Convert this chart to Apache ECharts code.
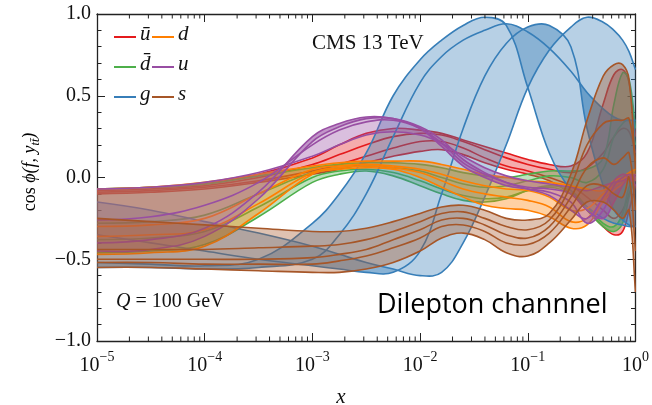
<!DOCTYPE html>
<html>
<head>
<meta charset="utf-8">
<script src="https://cdn.jsdelivr.net/npm/echarts@6/dist/echarts.min.js"></script>
<style>
html, body { margin: 0; padding: 0; background: #fff; }
#chart { width: 652px; height: 405px; }
</style>
</head>
<body>
<div id="chart"></div>
<script>
// Sampling grid: log10(x)
const xExp = [-5, -4.5, -4, -3.5, -3, -2.75, -2.5, -2.25, -2, -1.8, -1.6, -1.4, -1.2, -1, -0.8, -0.6, -0.45, -0.3, -0.2, -0.12, -0.06, 0];

// Correlation curves per flavour (one row per curve, aligned with xExp)
const ubarCurves = [
  [-0.07, -0.06, -0.04, 0.02, 0.12, 0.20, 0.27, 0.30, 0.29, 0.27, 0.23, 0.19, 0.15, 0.11, 0.08, 0.07, 0.15, 0.45, 0.63, 0.66, 0.58, 0.25],
  [-0.08, -0.07, -0.05, 0.00, 0.08, 0.14, 0.20, 0.25, 0.27, 0.26, 0.22, 0.17, 0.12, 0.08, 0.05, 0.03, 0.06, 0.15, 0.25, 0.30, 0.28, 0.15],
  [-0.09, -0.08, -0.06, -0.02, 0.04, 0.08, 0.13, 0.18, 0.22, 0.22, 0.18, 0.12, 0.07, 0.04, 0.00, -0.05, -0.12, -0.20, -0.25, -0.20, -0.10, 0.00],
  [-0.10, -0.09, -0.07, -0.03, 0.02, 0.05, 0.09, 0.13, 0.16, 0.17, 0.14, 0.09, 0.05, 0.02, -0.02, -0.10, -0.20, -0.30, -0.35, -0.33, -0.20, -0.05]
];
const dbarCurves = [
  [-0.07, -0.06, -0.04, 0.01, 0.06, 0.08, 0.09, 0.09, 0.08, 0.06, 0.03, 0.01, 0.00, 0.02, 0.04, 0.04, 0.05, 0.12, 0.45, 0.64, 0.60, 0.30],
  [-0.28, -0.27, -0.23, -0.10, 0.03, 0.06, 0.07, 0.06, 0.04, 0.00, -0.04, -0.06, -0.05, -0.02, 0.01, 0.00, -0.03, 0.05, 0.25, 0.33, 0.35, 0.20],
  [-0.38, -0.37, -0.33, -0.18, 0.00, 0.04, 0.05, 0.03, -0.02, -0.07, -0.11, -0.13, -0.12, -0.08, -0.06, -0.10, -0.20, -0.30, -0.33, -0.28, -0.12, 0.00],
  [-0.46, -0.45, -0.41, -0.24, -0.03, 0.02, 0.04, 0.01, -0.05, -0.10, -0.14, -0.15, -0.13, -0.08, -0.05, -0.08, -0.18, -0.28, -0.30, -0.22, -0.06, 0.00]
];
const gluonCurves = [
  [-0.52, -0.53, -0.54, -0.50, -0.28, -0.10, 0.15, 0.50, 0.72, 0.84, 0.93, 0.98, 0.93, 0.55, 0.15, -0.08, -0.18, -0.25, -0.28, -0.29, -0.30, -0.30],
  [-0.55, -0.55, -0.56, -0.55, -0.50, -0.35, -0.10, 0.25, 0.58, 0.74, 0.84, 0.90, 0.94, 0.89, 0.79, 0.65, 0.52, 0.42, 0.37, 0.35, 0.35, 0.35],
  [-0.35, -0.40, -0.45, -0.50, -0.54, -0.56, -0.58, -0.58, -0.45, -0.10, 0.30, 0.62, 0.82, 0.92, 0.93, 0.80, 0.30, -0.05, -0.20, -0.26, -0.29, -0.30],
  [-0.15, -0.20, -0.27, -0.34, -0.42, -0.47, -0.52, -0.56, -0.60, -0.58, -0.40, -0.12, 0.20, 0.55, 0.78, 0.92, 0.98, 0.95, 0.90, 0.84, 0.77, 0.66]
];
const dCurves = [
  [-0.07, -0.06, -0.03, 0.02, 0.07, 0.09, 0.10, 0.10, 0.10, 0.08, 0.05, 0.02, 0.00, -0.02, -0.03, -0.05, -0.07, -0.08, -0.02, 0.00, 0.02, 0.00],
  [-0.30, -0.29, -0.25, -0.10, 0.05, 0.07, 0.08, 0.07, 0.05, 0.02, -0.02, -0.05, -0.07, -0.08, -0.12, -0.20, -0.19, -0.10, -0.05, -0.02, 0.00, -0.02],
  [-0.36, -0.35, -0.32, -0.16, 0.03, 0.06, 0.07, 0.06, 0.03, -0.02, -0.07, -0.10, -0.12, -0.14, -0.18, -0.27, -0.25, -0.13, -0.05, 0.00, 0.03, 0.05],
  [-0.47, -0.46, -0.42, -0.22, 0.02, 0.05, 0.06, 0.05, 0.00, -0.06, -0.12, -0.17, -0.19, -0.20, -0.24, -0.31, -0.29, -0.15, -0.08, -0.04, 0.00, 0.02]
];
const uCurves = [
  [-0.07, -0.06, -0.03, 0.03, 0.13, 0.20, 0.26, 0.28, 0.26, 0.21, 0.13, 0.06, 0.01, -0.02, -0.04, -0.06, -0.08, -0.05, -0.03, -0.02, 0.00, -0.02],
  [-0.26, -0.24, -0.17, -0.03, 0.20, 0.29, 0.34, 0.35, 0.30, 0.21, 0.09, 0.02, -0.03, -0.06, -0.07, -0.10, -0.20, -0.25, -0.15, -0.05, 0.00, 0.02],
  [-0.40, -0.38, -0.31, -0.09, 0.25, 0.33, 0.37, 0.36, 0.30, 0.19, 0.07, 0.00, -0.05, -0.07, -0.09, -0.15, -0.28, -0.20, -0.05, 0.00, 0.02, 0.00],
  [-0.45, -0.44, -0.36, -0.13, 0.22, 0.31, 0.36, 0.36, 0.31, 0.23, 0.11, 0.03, -0.03, -0.07, -0.11, -0.20, -0.25, -0.12, -0.02, 0.02, 0.00, -0.05]
];
const sCurves = [
  [-0.25, -0.27, -0.29, -0.31, -0.33, -0.33, -0.31, -0.27, -0.22, -0.18, -0.17, -0.20, -0.25, -0.26, -0.22, 0.02, 0.35, 0.62, 0.69, 0.69, 0.60, 0.05],
  [-0.44, -0.44, -0.44, -0.43, -0.42, -0.41, -0.38, -0.33, -0.27, -0.22, -0.21, -0.25, -0.30, -0.32, -0.26, -0.05, 0.20, 0.33, 0.35, 0.35, 0.36, 0.10],
  [-0.50, -0.50, -0.50, -0.50, -0.49, -0.47, -0.44, -0.38, -0.32, -0.26, -0.25, -0.29, -0.35, -0.37, -0.30, -0.12, 0.06, 0.12, 0.08, 0.12, 0.15, -0.20],
  [-0.52, -0.52, -0.53, -0.53, -0.53, -0.51, -0.48, -0.43, -0.37, -0.30, -0.29, -0.33, -0.40, -0.41, -0.34, -0.18, -0.05, -0.05, -0.10, -0.12, 0.00, -0.45],
  [-0.55, -0.55, -0.56, -0.57, -0.58, -0.58, -0.56, -0.52, -0.45, -0.37, -0.34, -0.38, -0.46, -0.48, -0.40, -0.26, -0.15, -0.15, -0.20, -0.25, -0.20, -0.70]
];

// Axis ticks
const xTickExp = [-5, -4, -3, -2, -1, 0];
const yTickValues = [-1, -0.5, 0, 0.5, 1];

// Drawing order and styling of the flavours
const flavours = [
  { key: 'ubar', label: 'ū', color: '#e41a1c', curves: ubarCurves },
  { key: 'dbar', label: 'd̄', color: '#4daf4a', curves: dbarCurves },
  { key: 'g',    label: 'g', color: '#377eb8', curves: gluonCurves },
  { key: 'd',    label: 'd', color: '#ff7f00', curves: dCurves },
  { key: 'u',    label: 'u', color: '#984ea3', curves: uCurves },
  { key: 's',    label: 's', color: '#a65628', curves: sCurves }
];

const xs = xExp.map(e => Math.pow(10, e));
const SERIF = '"Liberation Serif", "DejaVu Serif", serif';
const AXIS_COLOR = '#222';
const SMOOTH = 0.4;
const FILL_ALPHA = 0.36;

function hexAlpha(hex, a) {
  const n = parseInt(hex.slice(1), 16);
  return 'rgba(' + (n >> 16) + ',' + ((n >> 8) & 255) + ',' + (n & 255) + ',' + a + ')';
}

// Smoothed path through pixel points (same control-point rule as ECharts' smooth lines)
function smoothPath(pts, smooth, startCmd) {
  const f = v => v.toFixed(2);
  let d = '';
  let cx0 = 0, cy0 = 0;
  for (let k = 0; k < pts.length; k++) {
    const x = pts[k][0], y = pts[k][1];
    if (k === 0) {
      d += startCmd + f(x) + ' ' + f(y);
      cx0 = x; cy0 = y;
      continue;
    }
    const px = pts[k - 1][0], py = pts[k - 1][1];
    const nx = k < pts.length - 1 ? pts[k + 1][0] : x;
    const ny = k < pts.length - 1 ? pts[k + 1][1] : y;
    const vx = nx - px, vy = ny - py;
    const lp = Math.hypot(x - px, y - py), ln = Math.hypot(x - nx, y - ny);
    const r = (lp + ln) > 0 ? ln / (lp + ln) : 0.5;
    const cx1 = x - vx * smooth * (1 - r), cy1 = y - vy * smooth * (1 - r);
    d += ' C' + f(cx0) + ' ' + f(cy0) + ' ' + f(cx1) + ' ' + f(cy1) + ' ' + f(x) + ' ' + f(y);
    cx0 = x + vx * smooth * r; cy0 = y + vy * smooth * r;
  }
  return d;
}

// Shaded regions between neighbouring curves of a flavour
function bandSeries(f) {
  const pairs = f.curves.slice(1).map((c, j) => [xs[0], c[0], j]);
  return {
    type: 'custom',
    name: f.key + '-band',
    coordinateSystem: 'cartesian2d',
    clip: true,
    silent: true,
    data: pairs,
    encode: { x: 0, y: 1 },
    renderItem: function (params, api) {
      const a = f.curves[params.dataIndex];
      const b = f.curves[params.dataIndex + 1];
      const up = xs.map((x, i) => api.coord([x, a[i]]));
      const lo = xs.map((x, i) => api.coord([x, b[i]])).reverse();
      const d = smoothPath(up, SMOOTH, 'M') + ' ' + smoothPath(lo, SMOOTH, 'L') + ' Z';
      return {
        type: 'path',
        shape: { pathData: d },
        style: { fill: hexAlpha(f.color, FILL_ALPHA), stroke: null, lineWidth: 0 }
      };
    }
  };
}

// The individual curves of a flavour
function curveSeries(f) {
  return {
    type: 'custom',
    name: f.key + '-curves',
    coordinateSystem: 'cartesian2d',
    clip: true,
    silent: true,
    data: f.curves.map(c => [xs[0], c[0]]),
    encode: { x: 0, y: 1 },
    renderItem: function (params, api) {
      const c = f.curves[params.dataIndex];
      const pts = xs.map((x, i) => api.coord([x, c[i]]));
      return {
        type: 'path',
        shape: { pathData: smoothPath(pts, SMOOTH, 'M') },
        style: { fill: null, stroke: f.color, lineWidth: 1.6, lineJoin: 'round' }
      };
    }
  };
}

const series = [];
flavours.forEach(f => {
  series.push(bandSeries(f));
  series.push(curveSeries(f));
});

// Minor ticks of the log axis (2..9 in each decade), bottom and top
const minorX = [];
for (let e = xTickExp[0]; e < xTickExp[xTickExp.length - 1]; e++) {
  for (let k = 2; k <= 9; k++) minorX.push([k * Math.pow(10, e), 0]);
}
series.push({
  type: 'custom',
  name: 'minor-x',
  silent: true,
  clip: false,
  data: minorX,
  encode: { x: 0, y: 1 },
  z: 10,
  renderItem: function (params, api) {
    const x = api.value(0);
    const b = api.coord([x, -1]);
    const t = api.coord([x, 1]);
    return {
      type: 'group',
      children: [
        { type: 'line', shape: { x1: b[0], y1: b[1], x2: b[0], y2: b[1] - 4.5 }, style: { stroke: AXIS_COLOR, lineWidth: 1 } },
        { type: 'line', shape: { x1: t[0], y1: t[1], x2: t[0], y2: t[1] + 4.5 }, style: { stroke: AXIS_COLOR, lineWidth: 1 } }
      ]
    };
  }
});

const xAxisCommon = {
  type: 'log',
  logBase: 10,
  min: Math.pow(10, xTickExp[0]),
  max: Math.pow(10, xTickExp[xTickExp.length - 1]),
  splitLine: { show: false },
  axisLine: { show: true, onZero: false, lineStyle: { color: AXIS_COLOR, width: 1.3 } },
  axisTick: { show: true, inside: true, length: 8, lineStyle: { color: AXIS_COLOR, width: 1 } },
  minorTick: { show: false }
};

const yAxisCommon = {
  type: 'value',
  min: yTickValues[0],
  max: yTickValues[yTickValues.length - 1],
  interval: 0.5,
  splitLine: { show: false },
  axisLine: { show: true, onZero: false, lineStyle: { color: AXIS_COLOR, width: 1.3 } },
  axisTick: { show: true, inside: true, length: 8, lineStyle: { color: AXIS_COLOR, width: 1 } },
  minorTick: { show: true, splitNumber: 5, length: 4.5, lineStyle: { color: AXIS_COLOR, width: 1 } }
};

function expText(v) {
  const e = Math.round(Math.log10(v));
  return '{b|10}{s|' + (e < 0 ? '\u2212' + (-e) : e) + '}';
}

const option = {
  animation: false,
  backgroundColor: '#fff',
  grid: { left: 97, right: 11, top: 14, bottom: 64 },
  xAxis: [
    Object.assign({}, xAxisCommon, {
      position: 'bottom',
      axisLabel: {
        show: true, margin: 9, formatter: expText,
        rich: {
          b: { fontFamily: SERIF, fontSize: 20, color: '#111', lineHeight: 26, verticalAlign: 'bottom' },
          s: { fontFamily: SERIF, fontSize: 14, color: '#111', lineHeight: 26, verticalAlign: 'top' }
        }
      }
    }),
    Object.assign({}, xAxisCommon, { position: 'top', axisLabel: { show: false } })
  ],
  yAxis: [
    Object.assign({}, yAxisCommon, {
      position: 'left',
      axisLabel: {
        show: true, margin: 6, fontFamily: SERIF, fontSize: 20, color: '#111',
        formatter: v => v.toFixed(1).replace('-', '\u2212')
      }
    }),
    Object.assign({}, yAxisCommon, { position: 'right', axisLabel: { show: false } })
  ],
  series: series,
  graphic: []
};

// Legend: two columns of line swatches with italic labels
const legendLayout = [
  { f: 'ubar', x: 114, y: 37 }, { f: 'd', x: 152, y: 37 },
  { f: 'dbar', x: 114, y: 67 }, { f: 'u', x: 152, y: 67 },
  { f: 'g',    x: 114, y: 97 }, { f: 's', x: 152, y: 97 }
];
legendLayout.forEach(item => {
  const f = flavours.find(q => q.key === item.f);
  option.graphic.push({
    type: 'line', z: 100,
    shape: { x1: item.x, y1: item.y, x2: item.x + 22, y2: item.y },
    style: { stroke: f.color, lineWidth: 2 }
  });
  option.graphic.push({
    type: 'text', z: 100, left: item.x + 26, top: item.y - 13,
    style: { text: f.label, font: 'italic 21px ' + SERIF, fill: '#111' }
  });
});

option.graphic.push(
  {
    type: 'text', z: 100, left: 312, top: 33,
    style: { text: 'CMS 13 TeV', font: '21px ' + SERIF, fill: '#111' }
  },
  {
    type: 'text', z: 100, left: 116, top: 292,
    style: {
      text: '{i|Q} = 100 GeV',
      font: '20px ' + SERIF, fill: '#111',
      rich: { i: { fontFamily: SERIF, fontStyle: 'italic', fontSize: 20 } }
    }
  },
  {
    type: 'text', z: 100, left: 377, top: 292,
    style: { text: 'Dilepton channnel', font: '27px "Open Sans", sans-serif', fill: '#000' }
  },
  {
    // x-axis title
    type: 'text', z: 100, x: 341, y: 397,
    style: { text: 'x', font: 'italic 21px ' + SERIF, fill: '#111', align: 'center', verticalAlign: 'middle' }
  },
  {
    // y-axis title, rotated to read bottom-to-top
    type: 'text', z: 100, x: 30, y: 172, rotation: Math.PI / 2,
    style: {
      text: '{r|cos }{i|\u03d5(f, y}{sub|tt\u0304}{i|)}',
      align: 'center', verticalAlign: 'middle',
      rich: {
        r: { fontFamily: SERIF, fontSize: 18, color: '#111', verticalAlign: 'middle', lineHeight: 24 },
        i: { fontFamily: SERIF, fontStyle: 'italic', fontSize: 18, color: '#111', verticalAlign: 'middle', lineHeight: 24 },
        sub: { fontFamily: SERIF, fontStyle: 'italic', fontSize: 12, color: '#111', verticalAlign: 'bottom', lineHeight: 24 }
      }
    }
  }
);

const chart = echarts.init(document.getElementById('chart'), null, { renderer: 'canvas' });
chart.setOption(option);
</script>
</body>
</html>
